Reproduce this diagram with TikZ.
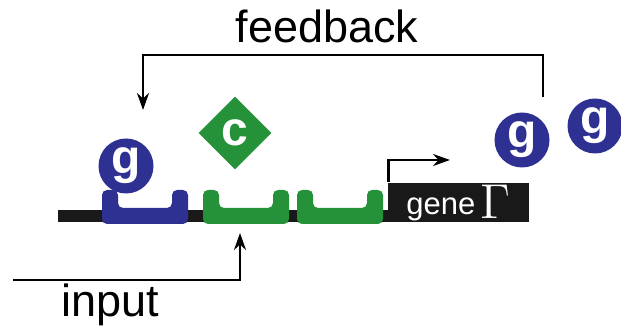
\documentclass[tikz,border=0pt]{standalone}
\usepackage{fontspec}
\setmainfont{Liberation Sans}
\usetikzlibrary{shapes.geometric,arrows.meta}
\definecolor{gblue}{RGB}{46,49,146}
\definecolor{cgreen}{RGB}{37,146,58}
\tikzset{
  gprot/.style={circle, fill=gblue, text=white, minimum size=27.5pt, inner sep=0pt,
    font=\fontsize{24}{24}\selectfont\bfseries},
  cprot/.style={diamond, fill=cgreen, text=white, minimum width=37pt, minimum height=37pt,
    inner sep=0pt, font=\fontsize{24}{24}\selectfont\bfseries},
  lbl/.style={anchor=base, font=\fontsize{22.5}{22.5}\selectfont},
}
\begin{document}
\begin{tikzpicture}[>={Stealth[length=8.5pt,width=6pt]}, line width=1.4pt, x=0.5pt, y=-0.5pt]
  \useasboundingbox (0,0) rectangle (621,330);
  % DNA
  \fill[black!90] (58,210) rectangle (390,222);
  % Bindungsstellen
  \foreach \xs/\col in {102/gblue, 203/cgreen, 297/cgreen}
    \fill[\col, rounded corners=2.5pt] (\xs,190) -- (\xs,224) -- (\xs+86,224) -- (\xs+86,190)
      -- (\xs+70,190) -- (\xs+70,208) -- (\xs+16,208) -- (\xs+16,190) -- cycle;
  \node[fill=black!90, text=white, minimum width=70.5pt, minimum height=19.5pt, inner sep=0pt,
    font=\fontsize{15.5}{15.5}\selectfont] (gene) at (458.5,202.5)
    {gene\,\raisebox{-2pt}{\scalebox{1.7}{$\Gamma$}}};
  % Proteine
  \node[gprot] (gL) at (126,166) {g};
  \node[cprot] (c) at (235,133) {c};
  \node[gprot] (gA) at (522,140) {g};
  \node[gprot] (gB) at (595,126) {g};
  % Pfeile
  \coordinate (tss) at (450,160);
  \draw[->] ([xshift=1pt]gene.north west) |- (tss);
  \coordinate (fbstart) at (543,97);
  \coordinate (fbend) at (143,110);
  \draw[->] (fbstart) -- (543,55) -| (fbend);
  \node[lbl] (fb) at (327,43) {feedback};
  \coordinate (instart) at (13,280);
  \coordinate (inend) at (240,233);
  \draw[->] (instart) -| (inend);
  \node[lbl] (in) at (110,317) {input};
\end{tikzpicture}
\end{document}
